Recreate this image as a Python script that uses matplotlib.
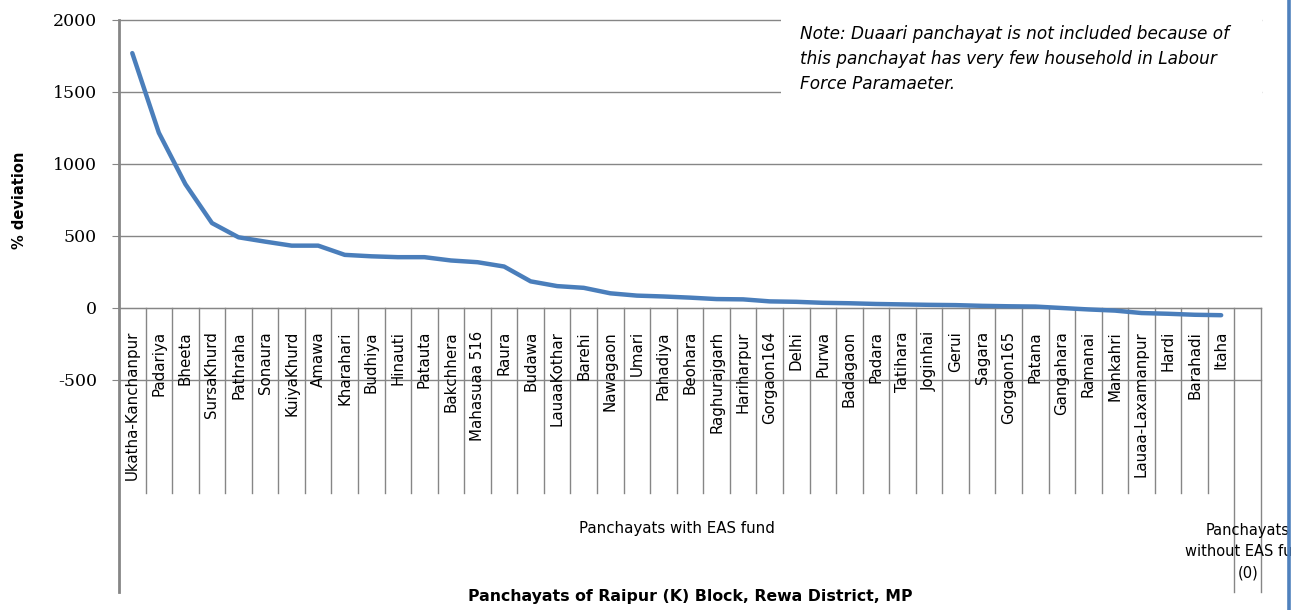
import numpy as np
import matplotlib
matplotlib.use('Agg')
from matplotlib import pyplot as plt
from matplotlib import transforms
from matplotlib.patches import Rectangle
from matplotlib.lines import Line2D

# panchayats with EAS fund, sorted by % deviation
names = ['Ukatha-Kanchanpur', 'Padariya', 'Bheeta', 'SursaKhurd', 'Pathraha', 'Sonaura',
         'KuiyaKhurd', 'Amawa', 'Kharahari', 'Budhiya', 'Hinauti', 'Patauta', 'Bakchhera',
         'Mahasuaa 516', 'Raura', 'Budawa', 'LauaaKothar', 'Barehi', 'Nawagaon', 'Umari',
         'Pahadiya', 'Beohara', 'Raghurajgarh', 'Hariharpur', 'Gorgaon164', 'Delhi', 'Purwa',
         'Badagaon', 'Padara', 'Tatihara', 'Joginhai', 'Gerui', 'Sagara', 'Gorgaon165',
         'Patana', 'Gangahara', 'Ramanai', 'Mankahri', 'Lauaa-Laxamanpur', 'Hardi',
         'Barahadi', 'Itaha']
deviation = [1770, 1217, 860, 590, 491, 461, 433, 433, 369, 359,
             353, 353, 330, 318, 288, 185, 152, 140, 102, 86,
             80, 72, 62, 60, 46, 43, 36, 33, 28, 25,
             22, 20, 15, 12, 10, 0, -10, -18, -35, -40,
             -47, -50]
groups = ['Panchayats with EAS fund', 'Panchayats\nwithout EAS fund\n(0)']
group_sizes = [len(names), 1]
yticks = [-500, 0, 500, 1000, 1500, 2000]
note = ('Note: Duaari panchayat is not included because of\n'
        'this panchayat has very few household in Labour\n'
        'Force Paramaeter.')

W, H = 1304, 610
grey = '#868686'
blue = '#4a7ebb'

fig = plt.figure(figsize=(W/100, H/100), dpi=100)
ax = fig.add_axes([119/W, (H-380)/H, (1261-119)/W, 360/H])
ncat = sum(group_sizes)
ax.set_xlim(-0.5, ncat - 0.5)
ax.set_ylim(-500, 2000)

ax.set_axisbelow(True)
ax.yaxis.grid(True, color=grey, lw=1)
for gl in ax.get_ygridlines():
    gl.set_clip_on(False)
ax.set_yticks(yticks)
ax.set_yticklabels([str(v) for v in yticks], family='DejaVu Serif', fontsize=12.5)
ax.tick_params(axis='y', direction='out', length=5, color=grey, pad=11)
ax.set_xticks([])
for s in ['top', 'right', 'left']:
    ax.spines[s].set_visible(False)
ax.spines['bottom'].set_position(('data', 0))
ax.spines['bottom'].set_color(grey)

ax.plot(np.arange(len(deviation)), deviation, color=blue, lw=3.2,
        solid_capstyle='round', solid_joinstyle='round', zorder=3)

# category boxes below the zero line
def fy(px):
    return (380 - px) / 360

tr = transforms.blended_transform_factory(ax.transData, ax.transAxes)
ax.plot([-0.5, -0.5], [1, fy(592)], transform=tr, color=grey, lw=2, clip_on=False)
for k in range(1, ncat + 1):
    bottom = fy(592) if k >= ncat - 1 else fy(493)
    ax.plot([k - 0.5, k - 0.5], [fy(308), bottom], transform=tr, color=grey, lw=1,
            clip_on=False)

for i, name in enumerate(names):
    ax.text(i, fy(331), name, transform=tr, rotation=90, ha='center', va='top',
            fontsize=10.8)

start = 0
for g, n in zip(groups, group_sizes):
    xc = start + (n - 1) / 2
    if n == 1:
        ax.text(xc, fy(552), g, transform=tr, ha='center', va='center', fontsize=10.5,
                linespacing=1.5)
    else:
        ax.text(xc, fy(528), g, transform=tr, ha='center', va='center', fontsize=10.8)
    start += n

fig.text(20/W, 1 - 200/H, '% deviation', rotation=90, ha='center', va='center',
         fontsize=10.5, fontweight='bold')
fig.text(690/W, 1 - 597/H, 'Panchayats of Raipur (K) Block, Rewa District, MP',
         ha='center', va='center', fontsize=11.3, fontweight='bold')

# note box covering the upper gridlines
fig.patches.append(Rectangle((781/W, (H-112)/H), (1262-781)/W, 107/H, transform=fig.transFigure,
                             facecolor='white', edgecolor='none', zorder=1))
fig.text(800/W, 1 - 25/H, note, ha='left', va='top', fontsize=12.2, style='italic',
         linespacing=1.5, zorder=2)

# page border at the right
fig.patches.append(Rectangle((1291/W, 0), 13/W, 1, transform=fig.transFigure,
                             facecolor='white', edgecolor='none', zorder=3))
fig.lines.append(Line2D([1289/W, 1289/W], [0, 1], transform=fig.transFigure,
                        color='#4f81bd', lw=2.6, zorder=4))

fig.savefig('out.png', dpi=100)
